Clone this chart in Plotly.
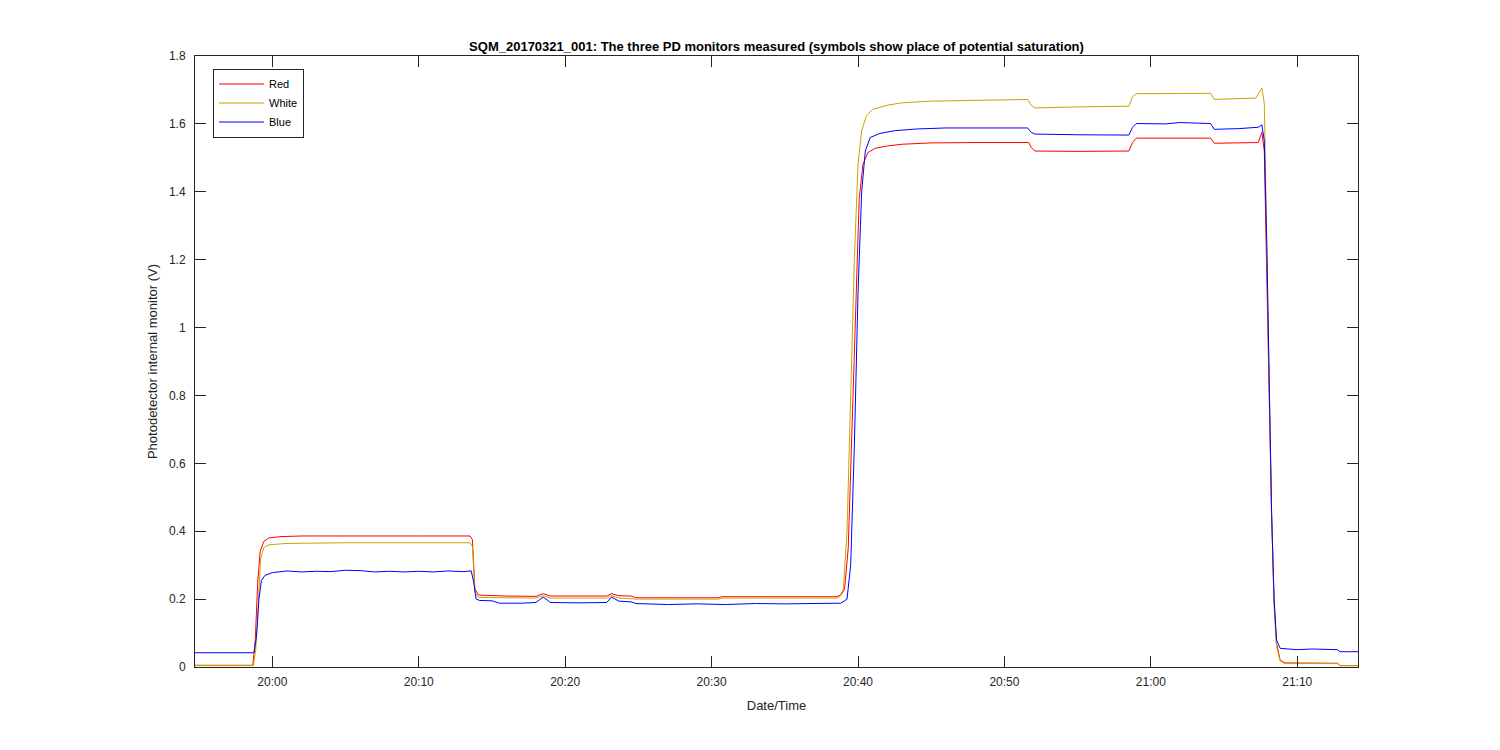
import plotly.graph_objects as go

DAY = "2017-03-21 "

red_time = ["19:54:42","19:58:40","19:58:50","19:59:00","19:59:10","19:59:25","19:59:45","20:00:30","20:02:00","20:06:00","20:10:00","20:13:30","20:13:40","20:13:50","20:14:05","20:16:00","20:18:00","20:18:30","20:19:00","20:22:50","20:23:10","20:23:40","20:24:30","20:24:50","20:30:30","20:30:40","20:38:30","20:38:50","20:39:05","20:39:20","20:39:35","20:39:50","20:40:05","20:40:20","20:40:40","20:41:10","20:42:00","20:43:00","20:45:00","20:48:00","20:51:40","20:51:50","20:52:05","20:55:00","20:58:30","20:58:45","20:59:00","21:04:05","21:04:20","21:07:20","21:07:35","21:07:45","21:07:55","21:08:05","21:08:15","21:08:25","21:08:35","21:08:50","21:09:10","21:12:45","21:12:55","21:14:09"]
red_v = [0.005,0.005,0.08,0.25,0.34,0.37,0.380,0.384,0.386,0.387,0.386,0.386,0.375,0.23,0.212,0.209,0.208,0.216,0.209,0.209,0.216,0.210,0.209,0.204,0.204,0.207,0.207,0.212,0.23,0.35,0.7,1.1,1.38,1.48,1.515,1.528,1.535,1.540,1.544,1.545,1.545,1.53,1.52,1.519,1.52,1.545,1.558,1.558,1.543,1.545,1.575,1.52,1.2,0.8,0.45,0.2,0.07,0.02,0.012,0.011,0.004,0.004]

white_time = ["19:54:42","19:58:42","19:58:52","19:59:02","19:59:12","19:59:25","19:59:45","20:01:00","20:05:00","20:13:30","20:13:40","20:13:50","20:14:05","20:18:00","20:18:30","20:19:00","20:22:50","20:23:10","20:23:40","20:24:50","20:30:30","20:30:40","20:38:30","20:38:45","20:39:00","20:39:15","20:39:30","20:39:45","20:40:00","20:40:15","20:40:35","20:41:00","20:42:00","20:43:00","20:45:00","20:48:00","20:51:35","20:51:50","20:52:05","20:55:00","20:58:30","20:58:45","20:59:00","21:04:05","21:04:20","21:07:10","21:07:35","21:07:45","21:07:55","21:08:05","21:08:15","21:08:25","21:08:35","21:08:50","21:09:10","21:12:45","21:12:55","21:14:09"]
white_v = [0.004,0.004,0.05,0.2,0.32,0.352,0.360,0.364,0.366,0.366,0.355,0.22,0.205,0.203,0.210,0.203,0.203,0.210,0.203,0.200,0.200,0.203,0.203,0.207,0.23,0.4,0.8,1.2,1.48,1.58,1.625,1.643,1.655,1.662,1.667,1.670,1.672,1.655,1.647,1.650,1.652,1.680,1.689,1.690,1.672,1.676,1.706,1.66,1.3,0.85,0.45,0.18,0.06,0.018,0.010,0.010,0.004,0.004]

blue_time = ["19:54:42","19:58:45","19:58:55","19:59:05","19:59:15","19:59:30","20:00:00","20:01:00","20:02:00","20:03:00","20:04:00","20:05:00","20:06:00","20:07:00","20:08:00","20:09:00","20:10:00","20:11:00","20:12:00","20:13:00","20:13:35","20:13:45","20:13:55","20:14:10","20:15:00","20:15:30","20:17:00","20:18:00","20:18:30","20:19:00","20:21:00","20:22:50","20:23:10","20:23:40","20:24:30","20:24:50","20:27:00","20:29:00","20:31:00","20:33:00","20:35:00","20:37:00","20:38:50","20:39:15","20:39:30","20:39:45","20:40:00","20:40:15","20:40:30","20:40:50","20:41:30","20:42:30","20:44:00","20:46:00","20:49:00","20:51:35","20:51:50","20:52:05","20:55:00","20:58:30","20:58:45","20:59:00","21:01:00","21:02:00","21:04:05","21:04:20","21:06:00","21:07:20","21:07:35","21:07:45","21:07:55","21:08:05","21:08:15","21:08:25","21:08:35","21:08:50","21:10:00","21:11:00","21:12:00","21:12:45","21:12:55","21:14:09"]
blue_v = [0.042,0.042,0.09,0.20,0.255,0.27,0.278,0.283,0.280,0.282,0.281,0.285,0.284,0.280,0.282,0.280,0.282,0.280,0.283,0.281,0.283,0.25,0.20,0.196,0.195,0.188,0.188,0.190,0.206,0.190,0.189,0.190,0.206,0.194,0.192,0.187,0.184,0.186,0.184,0.187,0.186,0.188,0.188,0.20,0.30,0.65,1.10,1.40,1.52,1.560,1.572,1.580,1.585,1.588,1.587,1.588,1.575,1.570,1.568,1.567,1.590,1.601,1.600,1.604,1.601,1.584,1.586,1.590,1.597,1.55,1.25,0.85,0.45,0.2,0.08,0.055,0.051,0.053,0.051,0.051,0.045,0.045]

y_ticks = [0, 0.2, 0.4, 0.6, 0.8, 1, 1.2, 1.4, 1.6, 1.8]
x_ticks = ["20:00", "20:10", "20:20", "20:30", "20:40", "20:50", "21:00", "21:10"]

series = [
    ("Red", red_time, red_v, "#FF0000"),
    ("White", white_time, white_v, "#C9A500"),
    ("Blue", blue_time, blue_v, "#0000FF"),
]

fig = go.Figure()
for name, t, v, col in series:
    fig.add_trace(go.Scatter(
        x=[DAY + s for s in t], y=v, mode="lines", name=name,
        line=dict(color=col, width=1),
    ))

axis_col = "#262626"
font = "Liberation Sans, Arial, Helvetica, sans-serif"

fig.update_layout(
    width=1500, height=750, autosize=False,
    paper_bgcolor="white", plot_bgcolor="white",
    margin=dict(l=187, r=150, t=48, b=91),
    font=dict(family=font, size=12, color=axis_col),
    title=dict(
        text="<b>SQM_20170321_001: The three PD monitors measured (symbols show place of potential saturation)</b>",
        x=0.5, xref="paper", xanchor="center", y=1 - 38 / 750, yanchor="middle",
        font=dict(size=13, color="black"),
    ),
    showlegend=True,
    legend=dict(
        x=0.0155, y=0.9795, xanchor="left", yanchor="top",
        bgcolor="white", bordercolor=axis_col, borderwidth=1,
        font=dict(size=11, color="black"), itemwidth=45,
    ),
    xaxis=dict(
        range=[DAY + "19:54:43", DAY + "21:14:09"],
        tickvals=[DAY + s for s in x_ticks], ticktext=x_ticks,
        ticks="inside", ticklen=11, tickcolor=axis_col, tickwidth=1,
        ticklabelstandoff=4, tickfont=dict(size=12),
        showline=True, linecolor=axis_col, linewidth=1, mirror="allticks",
        showgrid=False, zeroline=False,
        title=dict(text="Date/Time", standoff=12, font=dict(size=13, color=axis_col)),
    ),
    yaxis=dict(
        range=[0, 1.8],
        tickvals=y_ticks, ticktext=[("%g" % v) for v in y_ticks],
        ticks="inside", ticklen=11, tickcolor=axis_col, tickwidth=1,
        ticklabelstandoff=6, tickfont=dict(size=12),
        showline=True, linecolor=axis_col, linewidth=1, mirror="allticks",
        showgrid=False, zeroline=False,
        title=dict(text="Photodetector internal monitor (V)", standoff=8, font=dict(size=13, color=axis_col)),
    ),
)

fig.write_html("out.html")
